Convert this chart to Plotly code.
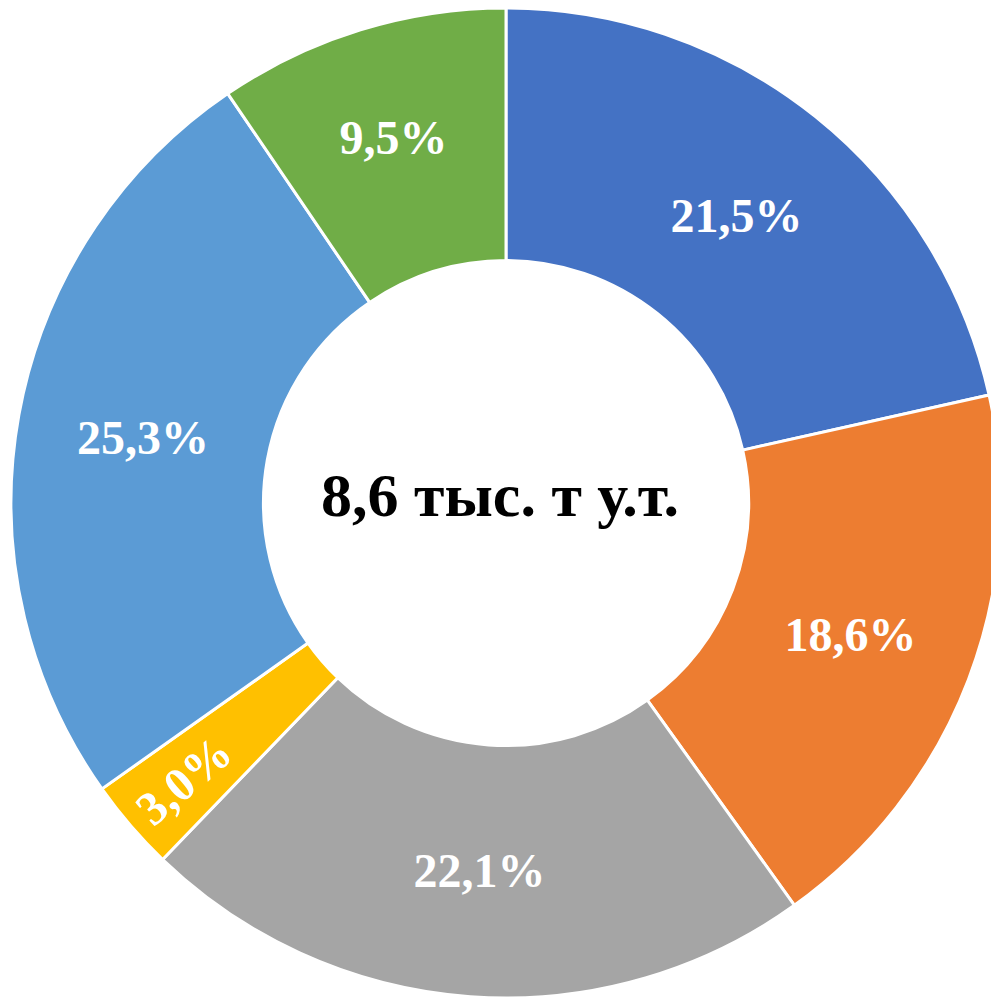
import plotly.graph_objects as go

categories = ["A", "B", "C", "D", "E", "F"]
values = [21.5, 18.6, 22.1, 3.0, 25.3, 9.5]
labels_text = ["21,5%", "18,6%", "22,1%", "3,0%", "25,3%", "9,5%"]
colors = ["#4472C4", "#ED7D31", "#A5A5A5", "#FFC000", "#5B9BD5", "#70AD47"]
center_text = "8,6 тыс. т у.т."

fig = go.Figure(go.Pie(
    labels=categories,
    values=values,
    text=labels_text,
    textinfo="text",
    hole=0.49,
    sort=False,
    direction="clockwise",
    rotation=0,
    marker=dict(colors=colors, line=dict(color="white", width=3)),
    textfont=dict(family="Liberation Serif", size=48, color="white", weight="bold"),
    insidetextfont=dict(family="Liberation Serif", size=48, color="white", weight="bold"),
    textposition="inside",
    insidetextorientation="auto",
    showlegend=False,
))
fig.add_annotation(
    text="<b>" + center_text + "</b>",
    x=0.5, y=0.5, xref="paper", yref="paper",
    xshift=-6, yshift=8,
    showarrow=False,
    font=dict(family="Liberation Serif", size=62, color="black"),
)
fig.update_layout(
    width=999, height=1001,
    margin=dict(l=3, r=6, t=0, b=11),
    paper_bgcolor="white",
    plot_bgcolor="white",
)
fig.write_html("out.html")
